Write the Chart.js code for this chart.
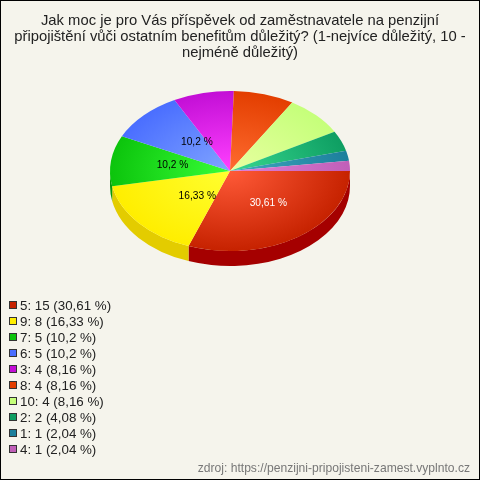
<!DOCTYPE html>
<html lang="cs">
<head>
<meta charset="utf-8">
<title>Penzijní připojištění</title>
<script src="https://cdn.jsdelivr.net/npm/chart.js@4"></script>
<style>
    html, body { margin: 0; padding: 0; }
    #frame {
        position: relative; width: 480px; height: 480px; box-sizing: border-box;
        border: 1px solid #000; background: #f5f4ec; overflow: hidden;
        font-family: "Liberation Sans", Arial, sans-serif; color: #222;
    }
    #chart { position: absolute; left: -1px; top: -1px; }
    #title { position: absolute; left: 0; right: 0; top: 11px; text-align: center; font-size: 14.8px; line-height: 16px; white-space: nowrap; }
    #legend { position: absolute; left: 8px; top: 297px; font-size: 13.33px; line-height: 16px; }
    #legend div { height: 16px; white-space: nowrap; }
    #legend i { display: inline-block; width: 6px; height: 6px; margin-right: 3px; border: 1px solid #333; vertical-align: 1px; }
    #source { position: absolute; right: 9px; top: 460px; font-size: 12.1px; line-height: 14px; color: #777; }
</style>
</head>
<body>
<div id="frame">
    <canvas id="chart" width="480" height="480"></canvas>
    <div id="title">Jak moc je pro Vás příspěvek od zaměstnavatele na penzijní<br>připojištění vůči ostatním benefitům důležitý? (1-nejvíce důležitý, 10 -<br>nejméně důležitý)</div>
    <div id="legend"></div>
    <div id="source">zdroj: https://penzijni-pripojisteni-zamest.vyplnto.cz</div>
</div>
<script>
const categories = ['5', '9', '7', '6', '3', '8', '10', '2', '1', '4'];
const counts = [15, 8, 5, 5, 4, 4, 4, 2, 1, 1];
const percents = ['30,61', '16,33', '10,2', '10,2', '8,16', '8,16', '8,16', '4,08', '2,04', '2,04'];

const baseColors = ['#c62200', '#ffee00', '#0cc40c', '#4a6eff', '#c30fd6', '#e33e00', '#c5ff7a', '#0e9e62', '#1c7f9c', '#c05fb8'];
const lightColors = ['#ff5a38', '#ffff30', '#38ff38', '#80a4ff', '#ff40ff', '#ff6c30', '#e8ffa0', '#38d890', '#40a8c0', '#e080d8'];
const sideColors = ['#a50000', '#e3cc00', '#0a9a0a', '#3050d0', '#a000b0', '#c03000', '#a0d060', '#0a8050', '#106080', '#a04098'];
const labelColors = ['#fff', '#000', '#000', '#000'];

const SQUASH = 0.667;
const DEPTH = 15;

// flat pie -> ellipse with a side wall
const tiltPlugin = {
    id: 'tilt',
    beforeDatasetsDraw(chart) {
        const ctx = chart.ctx;
        const arcs = chart.getDatasetMeta(0).data;
        const cx = arcs[0].x, cy = arcs[0].y, r = arcs[0].outerRadius;

        arcs.forEach((arc, i) => {
            const from = Math.max(arc.startAngle, 0);
            const to = Math.min(arc.endAngle, Math.PI);
            if (to <= from) return;
            ctx.beginPath();
            ctx.ellipse(cx, cy, r, r * SQUASH, 0, from, to);
            ctx.ellipse(cx, cy + DEPTH, r, r * SQUASH, 0, to, from, true);
            ctx.closePath();
            ctx.fillStyle = sideColors[i];
            ctx.fill();
        });

        ctx.save();
        ctx.translate(cx, cy);
        ctx.scale(1, SQUASH);
        ctx.translate(-cx, -cy);
    },
    afterDatasetsDraw(chart) {
        const ctx = chart.ctx;
        ctx.restore();

        const arcs = chart.getDatasetMeta(0).data;
        const nudge = [4, 13, 2, 10];
        ctx.font = '10.2px "Liberation Sans", Arial, sans-serif';
        ctx.textAlign = 'center';
        ctx.textBaseline = 'middle';
        arcs.slice(0, 4).forEach((arc, i) => {
            const mid = (arc.startAngle + arc.endAngle) / 2;
            const rad = arc.outerRadius * 0.5;
            ctx.fillStyle = labelColors[i];
            ctx.fillText(percents[i] + ' %', arc.x + Math.cos(mid) * rad + nudge[i], arc.y + Math.sin(mid) * rad * SQUASH - 1);
        });
    }
};

function sliceGradient(context) {
    const chart = context.chart;
    const area = chart.chartArea;
    if (!area) return baseColors[context.dataIndex];
    const cx = (area.left + area.right) / 2;
    const cy = (area.top + area.bottom) / 2;
    const g = chart.ctx.createRadialGradient(cx, cy, 0, cx, cy, 120);
    g.addColorStop(0, lightColors[context.dataIndex]);
    g.addColorStop(1, baseColors[context.dataIndex]);
    return g;
}

new Chart(document.getElementById('chart'), {
    type: 'pie',
    data: {
        labels: categories,
        datasets: [{
            data: counts,
            backgroundColor: sliceGradient,
            borderWidth: 0,
            radius: 120,
        }],
    },
    options: {
        responsive: false,
        animation: false,
        rotation: 90,
        layout: { padding: { left: 110, right: 130, top: 51, bottom: 189 } },
        plugins: {
            legend: { display: false },
            tooltip: { enabled: false },
        },
    },
    plugins: [tiltPlugin],
});

const legendBox = document.getElementById('legend');
categories.forEach((cat, i) => {
    const row = document.createElement('div');
    const swatch = document.createElement('i');
    swatch.style.background = baseColors[i];
    row.appendChild(swatch);
    row.appendChild(document.createTextNode(cat + ': ' + counts[i] + ' (' + percents[i] + ' %)'));
    legendBox.appendChild(row);
});
</script>
</body>
</html>
